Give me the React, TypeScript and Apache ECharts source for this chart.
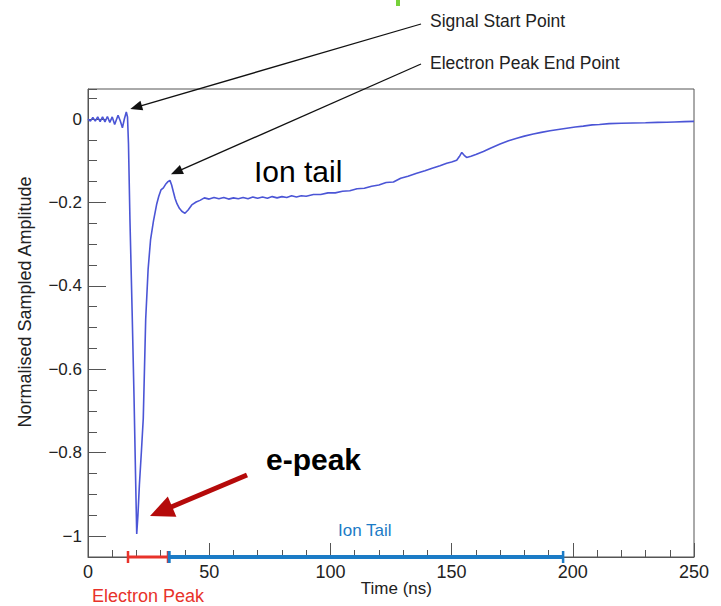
import React, { useEffect, useRef } from "react";
import * as echarts from "echarts";

// Time axis (ns) of the sampled waveform
const timeNs = [
  0, 1, 2, 3, 4, 5, 6, 7, 8, 9, 10, 11, 12.4, 13.3, 14.2, 15.0, 15.8, 16.3, 16.7, 17.3,
  18.2, 19.0, 19.6, 20.1, 20.6, 21.2, 22.0, 22.8, 23.8, 24.8, 25.8, 27.0, 28.3, 29.2, 30.1,
  31.1, 32.2, 33.0, 33.8, 34.5, 35.1, 35.9, 36.7, 37.7, 38.7, 40.0, 41.3, 42.8, 44.6, 46.2,
  48, 50, 52, 54, 56, 58, 60, 62, 64, 66, 68, 70, 72, 74, 76, 78, 80, 82, 84, 86, 88, 90,
  93, 96, 99, 102, 105, 108, 111, 114, 117, 120, 123, 126, 129, 132, 135.6, 139, 142, 145.2,
  148, 150, 152.1, 153.2, 154.2, 155.2, 156.2, 158, 160, 163.1, 166, 170, 173.5, 176.9, 180,
  183.7, 187, 190.6, 194, 197.5, 201, 204.3, 208, 211, 215, 220, 225, 230, 235, 238.7, 242,
  246, 250,
];

// Normalised sampled amplitude at each time
const amplitude = [
  0.0, -0.005, 0.004, -0.005, 0.005, -0.006, 0.005, -0.007, 0.006, -0.008, 0.005, -0.013,
  0.009, -0.004, -0.021, 0.0, 0.017, 0.005, -0.06, -0.24, -0.46, -0.67, -0.85, -0.995, -0.95,
  -0.877, -0.8, -0.718, -0.48, -0.36, -0.29, -0.245, -0.205, -0.185, -0.17, -0.165, -0.155,
  -0.15, -0.147, -0.158, -0.172, -0.19, -0.203, -0.214, -0.221, -0.226, -0.218, -0.206,
  -0.199, -0.195, -0.189, -0.192, -0.188, -0.191, -0.188, -0.192, -0.189, -0.191, -0.188,
  -0.191, -0.187, -0.19, -0.187, -0.19, -0.186, -0.189, -0.186, -0.188, -0.184, -0.187,
  -0.184, -0.185, -0.181, -0.181, -0.177, -0.177, -0.173, -0.172, -0.167, -0.166, -0.161,
  -0.158, -0.152, -0.151, -0.142, -0.137, -0.13, -0.124, -0.118, -0.112, -0.106, -0.103,
  -0.099, -0.09, -0.08, -0.087, -0.092, -0.089, -0.085, -0.078, -0.07, -0.06, -0.052,
  -0.046, -0.041, -0.036, -0.032, -0.028, -0.025, -0.022, -0.019, -0.017, -0.014, -0.013,
  -0.011, -0.01, -0.0095, -0.009, -0.008, -0.0078, -0.007, -0.0062, -0.0055,
];

const yMajorTicks = [-1, -0.8, -0.6, -0.4, -0.2, 0];

// Annotated time ranges (ns)
const electronPeakRange = [16.5, 33.0];
const ionTailRange = [33.5, 196];
// Annotated points [t, amplitude]
const signalStartPoint = [15.8, 0.017];
const electronPeakEndPoint = [33.8, -0.147];

const X_MIN = 0;
const X_MAX = 250;
const Y_MIN = -1.05;
const Y_MAX = 0.072;

const FONT = "'Liberation Sans', Arial, Helvetica, sans-serif";

function arrowGraphics(
  tail: number[],
  tip: number[],
  color: string,
  width: number,
  headLen: number,
  headHalf: number
) {
  const dx = tip[0] - tail[0];
  const dy = tip[1] - tail[1];
  const len = Math.sqrt(dx * dx + dy * dy);
  const ux = dx / len;
  const uy = dy / len;
  const bx = tip[0] - ux * headLen;
  const by = tip[1] - uy * headLen;
  const nx = -uy;
  const ny = ux;
  return [
    {
      type: "line",
      shape: { x1: tail[0], y1: tail[1], x2: bx + ux * 1, y2: by + uy * 1 },
      style: { stroke: color, lineWidth: width },
      silent: true,
    },
    {
      type: "polygon",
      shape: {
        points: [
          [tip[0], tip[1]],
          [bx + nx * headHalf, by + ny * headHalf],
          [bx - nx * headHalf, by - ny * headHalf],
        ],
      },
      style: { fill: color },
      silent: true,
    },
  ];
}

export default function App() {
  const ref = useRef<HTMLDivElement>(null);

  useEffect(() => {
    if (!ref.current) return;
    const chart = echarts.init(ref.current, undefined, { renderer: "svg" });

    const axisColor = "#555555";
    const labelColor = "#222222";

    const option: any = {
      animation: false,
      backgroundColor: "#ffffff",
      grid: {
        left: 88,
        top: 89,
        right: 27,
        bottom: 49,
        show: true,
        borderColor: axisColor,
        borderWidth: 1,
        backgroundColor: "transparent",
      },
      xAxis: {
        type: "value",
        min: X_MIN,
        max: X_MAX,
        interval: 50,
        axisLine: { show: true, onZero: false, lineStyle: { color: axisColor, width: 1 } },
        axisTick: { show: true, inside: true, length: 14, lineStyle: { color: axisColor } },
        minorTick: { show: true, splitNumber: 5, length: 7, lineStyle: { color: axisColor } },
        axisLabel: {
          color: labelColor,
          fontSize: 18,
          fontFamily: FONT,
          margin: 6,
          showMinLabel: true,
          showMaxLabel: true,
        },
        splitLine: { show: false },
      },
      yAxis: [
        {
          type: "value",
          min: Y_MIN,
          max: Y_MAX,
          axisLine: { show: true, onZero: false, lineStyle: { color: axisColor, width: 1 } },
          axisTick: {
            show: true,
            inside: true,
            length: 18,
            customValues: yMajorTicks,
            lineStyle: { color: axisColor },
          },
          axisLabel: {
            color: labelColor,
            fontSize: 17,
            fontFamily: FONT,
            margin: 6,
            customValues: yMajorTicks,
            formatter: (v: number) =>
              Math.abs(v) < 1e-9
                ? "0"
                : (v < 0 ? "\u2212" : "") + String(Math.abs(Math.round(v * 10) / 10)),
          },
          splitLine: { show: false },
        },
        {
          // minor ticks every 0.05 (min is a multiple of the interval)
          type: "value",
          min: Y_MIN,
          max: Y_MAX,
          interval: 0.05,
          position: "left",
          offset: 0,
          axisLine: { show: false },
          axisTick: {
            show: true,
            inside: true,
            length: 9,
            lineStyle: { color: axisColor },
          },
          axisLabel: { show: false },
          splitLine: { show: false },
        },
      ],
      series: [
        {
          type: "line",
          xAxisIndex: 0,
          yAxisIndex: 0,
          data: timeNs.map((t, i) => [t, amplitude[i]]),
          showSymbol: false,
          symbol: "none",
          lineStyle: { color: "#4b55d6", width: 1.6 },
          clip: true,
          silent: true,
        },
      ],
    };

    chart.setOption(option);

    const px = (t: number, v: number) =>
      chart.convertToPixel({ gridIndex: 0 }, [t, v]) as number[];

    const axisY = px(0, Y_MIN)[1];
    const red = "#e8322a";
    const blue = "#1b7bc6";

    const ep0 = px(electronPeakRange[0], Y_MIN)[0];
    const ep1 = px(electronPeakRange[1], Y_MIN)[0];
    const it0 = px(ionTailRange[0], Y_MIN)[0];
    const it1 = px(ionTailRange[1], Y_MIN)[0];

    const ssTip = px(signalStartPoint[0], signalStartPoint[1]);
    const epTip = px(electronPeakEndPoint[0], electronPeakEndPoint[1]);

    const graphic: any[] = [
      // green mark at top
      { type: "rect", shape: { x: 396, y: 0, width: 4, height: 6 }, style: { fill: "#76d13a" } },
      // range bars on the time axis
      {
        type: "line",
        shape: { x1: ep0, y1: axisY, x2: ep1, y2: axisY },
        style: { stroke: red, lineWidth: 3 },
        z: 100,
      },
      {
        type: "line",
        shape: { x1: ep0, y1: axisY - 6, x2: ep0, y2: axisY + 6 },
        style: { stroke: red, lineWidth: 2.5 },
        z: 100,
      },
      {
        type: "line",
        shape: { x1: ep1, y1: axisY - 6, x2: ep1, y2: axisY + 6 },
        style: { stroke: red, lineWidth: 2.5 },
        z: 100,
      },
      {
        type: "line",
        shape: { x1: it0, y1: axisY, x2: it1, y2: axisY },
        style: { stroke: blue, lineWidth: 4 },
        z: 100,
      },
      {
        type: "line",
        shape: { x1: it0, y1: axisY - 6, x2: it0, y2: axisY + 6 },
        style: { stroke: blue, lineWidth: 3 },
        z: 100,
      },
      {
        type: "line",
        shape: { x1: it1, y1: axisY - 6, x2: it1, y2: axisY + 6 },
        style: { stroke: blue, lineWidth: 2.5 },
        z: 100,
      },
      {
        type: "text",
        x: 92,
        y: 596,
        style: { text: "Electron Peak", fill: red, font: `18px ${FONT}`, align: "left", verticalAlign: "middle" },
      },
      {
        type: "text",
        x: 338,
        y: 530,
        style: { text: "Ion Tail", fill: blue, font: `17px ${FONT}`, align: "left", verticalAlign: "middle" },
      },
      // axis titles
      {
        type: "text",
        x: 432,
        y: 588,
        style: { text: "Time (ns)", fill: labelColor, font: `17px ${FONT}`, align: "right", verticalAlign: "middle" },
      },
      {
        type: "text",
        x: 25,
        y: 302,
        rotation: Math.PI / 2,
        style: {
          text: "Normalised Sampled Amplitude",
          fill: labelColor,
          font: `18px ${FONT}`,
          align: "center",
          verticalAlign: "middle",
        },
      },
      // annotation labels
      {
        type: "text",
        x: 430,
        y: 21,
        style: { text: "Signal Start Point", fill: labelColor, font: `17.5px ${FONT}`, align: "left", verticalAlign: "middle" },
      },
      {
        type: "text",
        x: 430,
        y: 63,
        style: { text: "Electron Peak End Point", fill: labelColor, font: `17.5px ${FONT}`, align: "left", verticalAlign: "middle" },
      },
      {
        type: "text",
        x: 254,
        y: 171,
        style: { text: "Ion tail", fill: "#000000", font: `30px ${FONT}`, align: "left", verticalAlign: "middle" },
      },
      {
        type: "text",
        x: 266,
        y: 459,
        style: { text: "e-peak", fill: "#000000", font: `bold 30px ${FONT}`, align: "left", verticalAlign: "middle" },
      },
      ...arrowGraphics([421, 24], [ssTip[0] + 4, ssTip[1] - 3], "#111111", 1.3, 12, 5),
      ...arrowGraphics([421, 64], [epTip[0] + 1, epTip[1] - 6], "#111111", 1.3, 12, 5),
      ...arrowGraphics([247, 475], [150, 516], "#b50a0a", 5, 24, 11),
    ];

    chart.setOption({ graphic });

    return () => {
      chart.dispose();
    };
  }, []);

  return (
    <div
      ref={ref}
      style={{ position: "fixed", left: 0, top: 0, width: 721, height: 606, background: "#fff" }}
    />
  );
}
